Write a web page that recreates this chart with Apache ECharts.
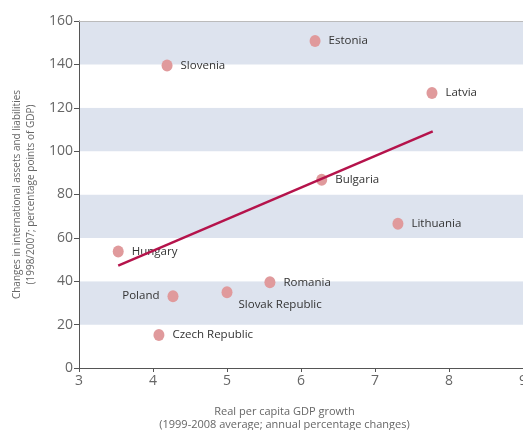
<!DOCTYPE html>
<html>
<head>
<meta charset="utf-8">
<script src="https://cdn.jsdelivr.net/npm/echarts@6/dist/echarts.min.js"></script>
<style>
  html, body { margin: 0; padding: 0; background: #fff; }
  #main { width: 523px; height: 430px; }
</style>
</head>
<body>
<div id="main"></div>
<script>
// countries, growth (x) and change in assets/liabilities (y)
const countries = ['Estonia', 'Slovenia', 'Latvia', 'Bulgaria', 'Lithuania', 'Hungary', 'Romania', 'Poland', 'Slovak Republic', 'Czech Republic'];
const gdpGrowth = [6.19, 4.19, 7.77, 6.28, 7.31, 3.53, 5.58, 4.27, 5.0, 4.08];
const assetChange = [150.8, 139.5, 126.8, 86.8, 66.5, 53.7, 39.5, 33.1, 34.9, 15.2];
// fitted trend line end points
const trendX = [3.53, 7.78];
const trendY = [47.2, 109.1];

const labelPos = { 'Poland': 'left', 'Slovak Republic': 'bottomRight' };

const chart = echarts.init(document.getElementById('main'));

const points = countries.map((c, i) => {
  const pos = labelPos[c] || 'right';
  const item = { name: c, value: [gdpGrowth[i], assetChange[i]], label: { position: pos === 'bottomRight' ? 'right' : pos } };
  if (pos === 'bottomRight') item.label.offset = [-2, 12];
  return item;
});

const font = '"Open Sans", "Noto Sans", sans-serif';

const option = {
  backgroundColor: '#fff',
  animation: false,
  grid: { left: 79, right: 0, top: 21, bottom: 62, containLabel: false, outerBoundsMode: 'none' },
  xAxis: [{
    type: 'value',
    min: 3, max: 9, interval: 1,
    name: 'Real per capita GDP growth\n(1999-2008 average; annual percentage changes)',
    nameLocation: 'middle',
    nameGap: 37,
    nameTextStyle: { color: '#666', fontSize: 11, fontFamily: font, lineHeight: 13, padding: [0, 33, 0, 0] },
    axisLine: { show: true, lineStyle: { color: '#555', width: 1 } },
    axisTick: { show: true, length: 4, lineStyle: { color: '#555' } },
    axisLabel: { color: '#666', fontSize: 14, fontFamily: font, margin: 6, hideOverlap: false },
    splitLine: { show: false }
  }, {
    type: 'value', position: 'top', min: 3, max: 9,
    axisLine: { show: true, lineStyle: { color: '#bbb', width: 1 } },
    axisTick: { show: false }, axisLabel: { show: false }, splitLine: { show: false }
  }],
  yAxis: {
    type: 'value',
    min: 0, max: 160, interval: 20,
    name: 'Changes in international assets and liabilities\n(1998/2007; percentage points of GDP)',
    nameLocation: 'middle',
    nameGap: 40,
    nameTextStyle: { color: '#666', fontSize: 10, fontFamily: font, lineHeight: 14 },
    axisLine: { show: true, lineStyle: { color: '#555', width: 1 } },
    axisTick: { show: true, length: 5, lineStyle: { color: '#555' } },
    axisLabel: { color: '#666', fontSize: 14, fontFamily: font, margin: 6 },
    splitLine: { show: false },
    splitArea: { show: true, areaStyle: { color: ['#ffffff', '#dde3ee'] } }
  },
  series: [{
    type: 'line',
    data: trendX.map((x, i) => [x, trendY[i]]),
    symbol: 'none',
    lineStyle: { color: '#b5134b', width: 2.5 },
    z: 3
  }, {
    type: 'scatter',
    data: points,
    symbol: 'circle',
    symbolSize: [11, 12],
    itemStyle: { color: '#e09a9c', opacity: 1 },
    label: {
      show: true,
      formatter: '{b}',
      color: '#333',
      fontSize: 11.5,
      fontFamily: font,
      distance: 8
    },
    z: 2
  }]
};

chart.setOption(option);
</script>
</body>
</html>
